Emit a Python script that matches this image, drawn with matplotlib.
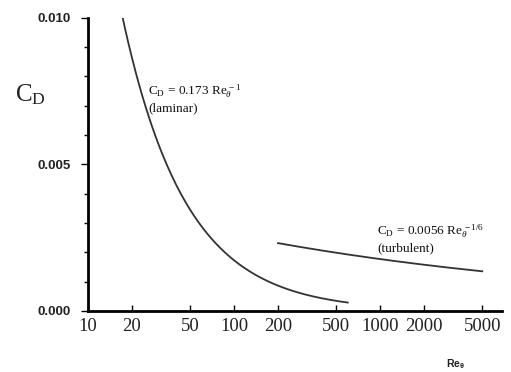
import numpy as np
import matplotlib
matplotlib.use("Agg")
import matplotlib.pyplot as plt
from matplotlib.ticker import FixedLocator, FixedFormatter, MultipleLocator

plt.rcParams['mathtext.fontset'] = 'custom'
plt.rcParams['mathtext.rm'] = 'Liberation Serif'
plt.rcParams['mathtext.it'] = 'Liberation Serif:italic'
plt.rcParams['mathtext.bf'] = 'Liberation Sans:bold'

# Drag-coefficient correlations
laminar_coef = 0.173
laminar_exp = -1.0
laminar_re_range = [17, 600]

turbulent_coef = 0.0056
turbulent_exp = -1.0 / 6.0
turbulent_re_range = [200, 5000]

x_ticks = [10, 20, 50, 100, 200, 500, 1000, 2000, 5000]
x_tick_labels = ["10", "20", "50", "100", "200", "500", "1000", "2000", "5000"]
y_ticks = [0.000, 0.005, 0.010]
y_tick_labels = ["0.000", "0.005", "0.010"]

fig = plt.figure(figsize=(5.11, 3.72), dpi=100)
ax = fig.add_axes([0.172, 0.164, 0.810, 0.788])

re_lam = np.geomspace(*laminar_re_range, 200)
re_tur = np.geomspace(*turbulent_re_range, 200)
ax.plot(re_lam, laminar_coef * re_lam ** laminar_exp, color="#333333", lw=1.3)
ax.plot(re_tur, turbulent_coef * re_tur ** turbulent_exp, color="#333333", lw=1.3)

ax.set_xscale("log")
ax.set_xlim(10, 6800)
ax.set_ylim(0, 0.010)

for s in ("top", "right"):
    ax.spines[s].set_visible(False)
for s in ("left", "bottom"):
    ax.spines[s].set_linewidth(2.0)

ax.xaxis.set_major_locator(FixedLocator(x_ticks))
ax.xaxis.set_major_formatter(FixedFormatter(x_tick_labels))
ax.xaxis.set_minor_locator(FixedLocator([]))
ax.tick_params(axis="x", direction="in", length=4, width=1, pad=5,
               labelsize=13.5, labelcolor="#222222")
for lbl in ax.get_xticklabels():
    lbl.set_fontfamily("Liberation Serif")

ax.yaxis.set_major_locator(FixedLocator(y_ticks))
ax.yaxis.set_major_formatter(FixedFormatter(y_tick_labels))
ax.yaxis.set_minor_locator(MultipleLocator(0.001))
ax.tick_params(axis="y", which="major", direction="out", length=5, width=1,
               pad=7, labelsize=9.5, labelcolor="#222222")
ax.tick_params(axis="y", which="minor", direction="out", length=3, width=1)
for lbl in ax.get_yticklabels():
    lbl.set_fontfamily("Liberation Sans")
    lbl.set_fontweight("bold")

fig.text(0.03, 0.745, r"$\mathrm{C}_{\mathrm{D}}$", fontsize=18,
         ha="left", va="center", color="#222222")
fig.text(0.872, 0.004, r"$\mathbf{Re}_{\mathbf{\theta}}$", fontsize=7.5,
         ha="left", va="bottom", color="#222222")

ann = dict(transform=fig.transFigure, fontsize=9.5, fontfamily="Liberation Serif",
           color="#111111", ha="left", va="baseline")
ax.text(0.290, 0.742, r"$\mathrm{C_D}$ = 0.173 $\mathrm{Re}_\theta^{\,-1}$", **ann)
ax.text(0.290, 0.702, "(laminar)", **ann)
ax.text(0.738, 0.368, r"$\mathrm{C_D}$ = 0.0056 $\mathrm{Re}_\theta^{\,-1/6}$", **ann)
ax.text(0.738, 0.325, "(turbulent)", **ann)

fig.savefig("out.png", dpi=100)
